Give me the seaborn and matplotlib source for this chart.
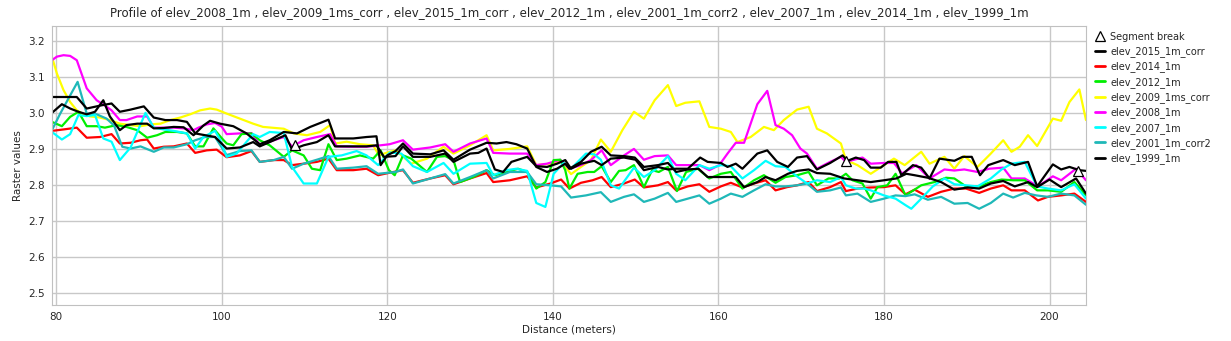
import matplotlib
matplotlib.use("Agg")
from matplotlib import pyplot as plt
from matplotlib.lines import Line2D
import numpy as np
import seaborn as sns

# elevation profiles, (distance, value) vertices
dist_2009 = [79.5, 80.1, 80.9, 81.7, 82.5, 83.3, 84.1, 85.3, 86.5, 87.7, 89.0, 90.2, 91.4, 92.6, 93.8, 95.0, 96.2, 97.4, 98.6, 99.4,
             100.6, 102.2, 103.8, 105.0, 107.5, 108.7, 110.3, 111.9, 113.1, 113.7, 115.1, 116.7, 118.3, 119.0, 120.0,
             121.0, 122.9, 124.8, 126.8, 128.0, 130.0, 132.0, 132.8, 134.8, 136.9, 138.0, 139.7, 141.0,
             142.2, 143.4, 144.6, 145.8, 147.0, 148.4, 149.8, 151.0, 152.3, 153.9, 154.9, 156.0, 157.7, 158.9, 160.3, 161.5,
             162.3, 163.9, 165.5, 166.7, 167.9, 169.5, 170.9, 171.9, 173.1, 174.8, 175.4, 176.8, 178.4, 180.0, 181.2,
             182.5, 184.5, 185.5, 187.3, 188.5, 189.7, 191.3, 192.9, 194.4, 195.4, 196.4, 197.4, 198.5, 200.4, 201.4, 202.4, 203.6, 204.4]
elev_2009 = [3.155, 3.109, 3.063, 3.03, 3.007, 2.996, 2.99, 2.987, 2.98, 2.97, 2.966, 2.963, 2.968, 2.97, 2.98, 2.987, 2.996, 3.007, 3.012, 3.009,
             2.998, 2.984, 2.97, 2.961, 2.956, 2.943, 2.938, 2.947, 2.966, 2.915, 2.92, 2.913, 2.91, 2.882, 2.89,
             2.896, 2.859, 2.873, 2.906, 2.887, 2.91, 2.938, 2.896, 2.90, 2.907, 2.855, 2.859, 2.865,
             2.83, 2.85, 2.869, 2.926, 2.892, 2.952, 3.003, 2.984, 3.035, 3.077, 3.019, 3.028, 3.032, 2.961, 2.956, 2.947,
             2.919, 2.933, 2.961, 2.952, 2.98, 3.009, 3.017, 2.956, 2.943, 2.915, 2.869, 2.855, 2.831, 2.855, 2.873,
             2.855, 2.892, 2.859, 2.878, 2.845, 2.88, 2.85, 2.887, 2.924, 2.892, 2.906, 2.938, 2.908, 2.984, 2.978, 3.03, 3.065, 2.98]

dist_2008 = [79.5, 80.1, 80.9, 81.7, 82.5, 83.7, 84.9, 86.1, 86.7, 87.7, 88.5, 89.8, 91.0, 91.8, 93.0, 94.2, 95.4, 96.6, 97.2, 98.2, 99.2,
             100.0, 100.6, 102.2, 103.6, 104.6, 106.3, 107.5, 108.5, 109.9, 111.5, 113.1, 113.9, 115.9, 117.5, 119.2,
             120.3, 121.9, 123.1, 125.2, 127.0, 128.0, 130.0, 132.0, 132.8, 134.8, 136.9, 138.0, 139.3, 140.9,
             142.0, 143.4, 144.6, 145.9, 147.0, 148.6, 149.8, 151.0, 152.3, 153.9, 154.9, 156.3, 157.7, 158.9, 160.1, 161.1,
             162.1, 163.1, 164.7, 165.9, 166.9, 167.9, 168.9, 169.9, 170.7, 171.9, 173.5, 174.8, 175.4, 176.4, 177.4, 178.4,
             180.0, 181.2, 182.2, 183.9, 185.5, 187.3, 188.5, 189.7, 191.3, 192.7, 194.4, 195.4, 197.0, 198.6, 200.4, 201.4, 203.2, 204.4]
elev_2008 = [3.146, 3.156, 3.16, 3.158, 3.146, 3.068, 3.035, 3.017, 3.007, 2.98, 2.98, 2.99, 2.99, 2.959, 2.959, 2.959, 2.957, 2.952, 2.959, 2.968, 2.972,
             2.962, 2.941, 2.943, 2.944, 2.91, 2.924, 2.933, 2.907, 2.924, 2.933, 2.941, 2.907, 2.906, 2.906, 2.91,
             2.913, 2.924, 2.898, 2.904, 2.913, 2.892, 2.915, 2.929, 2.889, 2.887, 2.887, 2.855, 2.859, 2.87,
             2.845, 2.855, 2.869, 2.896, 2.855, 2.882, 2.9, 2.87, 2.88, 2.882, 2.855, 2.855, 2.855, 2.841, 2.855, 2.887,
             2.917, 2.917, 3.024, 3.061, 2.966, 2.956, 2.938, 2.901, 2.887, 2.845, 2.864, 2.878, 2.864, 2.87, 2.876, 2.859,
             2.861, 2.861, 2.832, 2.855, 2.818, 2.843, 2.84, 2.843, 2.836, 2.845, 2.848, 2.818, 2.818, 2.796, 2.824, 2.813, 2.845, 2.813]

dist_2007 = [79.5, 80.7, 81.7, 82.7, 83.7, 84.7, 85.7, 86.7, 87.7, 89.0, 90.8, 91.8, 93.0, 94.2, 95.8, 96.8, 97.8, 99.2, 99.8,
             100.6, 101.8, 103.8, 104.6, 105.8, 107.5, 108.5, 109.9, 111.5, 112.9, 114.5, 116.3, 117.5, 118.9,
             120.3, 121.7, 123.1, 124.8, 126.8, 128.0, 130.0, 132.0, 132.8, 134.4, 135.6, 136.9, 138.0, 139.1, 140.1, 141.3,
             142.2, 144.0, 145.0, 145.8, 147.0, 148.0, 149.8, 151.0, 152.3, 153.9, 154.9, 156.0, 157.7, 158.9, 160.3,
             161.5, 162.9, 164.3, 165.7, 166.9, 168.1, 169.3, 170.7, 171.9, 173.5, 174.8, 175.4, 176.6, 177.6, 178.4, 180.0, 181.4,
             182.6, 183.3, 184.5, 185.9, 187.3, 188.5, 189.9, 191.3, 192.9, 194.2, 195.4, 197.0, 198.5, 199.8, 201.4, 203.0, 204.4]
elev_2007 = [2.947, 2.926, 2.941, 2.994, 2.991, 2.994, 2.929, 2.92, 2.869, 2.904, 3.0, 2.959, 2.954, 2.95, 2.943, 2.901, 2.933, 2.95, 2.926,
             2.878, 2.887, 2.941, 2.933, 2.947, 2.944, 2.85, 2.804, 2.804, 2.878, 2.882, 2.894, 2.882, 2.855,
             2.89, 2.887, 2.852, 2.836, 2.861, 2.831, 2.859, 2.861, 2.827, 2.841, 2.845, 2.839, 2.75, 2.739, 2.831, 2.861,
             2.845, 2.887, 2.885, 2.87, 2.799, 2.79, 2.848, 2.822, 2.841, 2.88, 2.831, 2.813, 2.855, 2.845, 2.855,
             2.852, 2.818, 2.841, 2.867, 2.852, 2.85, 2.827, 2.804, 2.813, 2.808, 2.822, 2.799, 2.79, 2.79, 2.785, 2.771, 2.762,
             2.744, 2.734, 2.762, 2.796, 2.818, 2.802, 2.799, 2.796, 2.818, 2.843, 2.859, 2.864, 2.796, 2.79, 2.785, 2.802, 2.762]

dist_2001 = [79.5, 80.5, 81.5, 82.6, 83.7, 84.9, 86.1, 87.0, 88.0, 89.0, 90.2, 91.8, 93.0, 94.2, 95.8, 96.8, 98.0, 99.2,
             100.6, 102.2, 103.6, 104.6, 106.3, 107.5, 108.5, 109.9, 111.5, 112.9, 113.9, 115.9, 117.5, 118.9,
             121.0, 121.9, 123.1, 125.2, 127.0, 128.0, 130.0, 132.0, 132.8, 134.8, 136.9, 138.0, 139.7, 141.0,
             142.2, 144.0, 145.8, 147.0, 148.6, 149.8, 151.0, 152.3, 153.9, 154.9, 156.3, 157.7, 158.9, 160.3,
             161.5, 162.9, 164.3, 165.7, 166.9, 168.1, 169.5, 170.7, 171.9, 173.5, 174.8, 175.4, 176.8, 178.4, 180.0, 181.4,
             182.6, 183.7, 185.3, 186.9, 188.5, 190.1, 191.5, 192.9, 194.4, 195.6, 197.0, 198.4, 199.8, 201.4, 203.0, 204.4]
elev_2001 = [2.952, 2.998, 3.04, 3.086, 2.998, 2.996, 2.984, 2.965, 2.906, 2.901, 2.907, 2.892, 2.904, 2.904, 2.913, 2.924, 2.933, 2.933,
             2.883, 2.894, 2.896, 2.864, 2.869, 2.878, 2.845, 2.859, 2.87, 2.88, 2.845, 2.848, 2.852, 2.831,
             2.836, 2.843, 2.804, 2.818, 2.83, 2.804, 2.822, 2.841, 2.818, 2.836, 2.836, 2.802, 2.799, 2.796,
             2.765, 2.771, 2.78, 2.753, 2.767, 2.774, 2.753, 2.762, 2.778, 2.753, 2.762, 2.771, 2.748, 2.762,
             2.776, 2.767, 2.785, 2.802, 2.796, 2.796, 2.799, 2.804, 2.781, 2.785, 2.793, 2.771, 2.776, 2.753, 2.762, 2.771,
             2.769, 2.774, 2.759, 2.767, 2.748, 2.75, 2.734, 2.75, 2.776, 2.765, 2.778, 2.771, 2.767, 2.776, 2.771, 2.745]

dist_2014 = [79.5, 80.9, 82.5, 83.7, 85.3, 86.7, 87.7, 89.0, 90.2, 91.0, 91.8, 93.0, 94.2, 95.8, 96.8, 98.2, 99.4,
             100.6, 102.2, 103.6, 104.6, 106.3, 107.5, 108.5, 109.9, 111.5, 112.9, 113.9, 115.9, 117.5, 118.9,
             120.3, 121.9, 123.1, 125.2, 127.0, 128.0, 130.0, 132.0, 132.8, 134.8, 136.9, 138.0, 139.7, 141.0,
             142.0, 143.4, 144.8, 145.9, 147.0, 148.6, 149.9, 151.0, 152.7, 153.9, 154.9, 156.3, 157.7, 158.9, 160.3,
             161.5, 162.9, 164.3, 165.7, 166.9, 168.3, 169.5, 170.9, 171.9, 173.5, 174.8, 175.4, 176.8, 178.4, 180.0, 181.4,
             182.6, 183.7, 185.3, 186.9, 188.5, 189.9, 191.5, 192.9, 194.4, 195.4, 197.0, 198.6, 199.8, 201.4, 203.0, 204.4]
elev_2014 = [2.95, 2.954, 2.959, 2.931, 2.933, 2.941, 2.915, 2.917, 2.924, 2.926, 2.901, 2.906, 2.907, 2.915, 2.889, 2.896, 2.898,
             2.877, 2.882, 2.894, 2.864, 2.869, 2.869, 2.855, 2.859, 2.864, 2.873, 2.841, 2.841, 2.845, 2.827,
             2.834, 2.841, 2.806, 2.818, 2.827, 2.802, 2.818, 2.833, 2.808, 2.813, 2.824, 2.793, 2.804, 2.815,
             2.79, 2.806, 2.813, 2.822, 2.794, 2.804, 2.815, 2.793, 2.799, 2.808, 2.785, 2.796, 2.802, 2.781, 2.796,
             2.806, 2.793, 2.804, 2.813, 2.785, 2.794, 2.799, 2.808, 2.783, 2.794, 2.808, 2.783, 2.79, 2.793, 2.794, 2.799,
             2.774, 2.787, 2.767, 2.781, 2.79, 2.79, 2.778, 2.79, 2.799, 2.785, 2.785, 2.757, 2.767, 2.771, 2.776, 2.753]

dist_2012 = [79.5, 80.7, 81.7, 82.7, 83.7, 84.9, 85.9, 87.3, 88.5, 89.8, 91.0, 92.2, 93.2, 94.6, 95.8, 96.8, 97.8, 99.0,
             100.0, 100.6, 101.4, 102.4, 103.6, 104.6, 105.8, 107.5, 108.5, 109.9, 110.9, 111.9, 112.9, 113.9, 115.1, 116.7, 118.3, 119.2,
             120.2, 120.9, 121.9, 122.9, 124.8, 126.0, 127.0, 128.0, 128.8, 130.4, 132.0, 133.0, 134.4, 135.8, 136.9, 138.0, 139.1, 140.1, 140.9, 141.5,
             142.0, 143.0, 144.2, 145.0, 145.9, 147.0, 148.0, 148.8, 149.8, 151.0, 152.0, 152.8, 153.9, 155.0, 156.1, 157.5, 158.9, 160.3,
             161.5, 162.9, 164.3, 165.5, 166.9, 168.1, 169.5, 170.9, 171.9, 173.3, 174.6, 175.4, 176.2, 177.4, 178.4, 179.2, 180.4, 181.4,
             182.6, 184.5, 186.1, 187.5, 188.5, 189.9, 191.5, 192.9, 194.2, 195.6, 197.0, 198.5, 199.8, 201.4, 203.0, 204.4]
elev_2012 = [2.975, 2.963, 2.989, 3.003, 2.963, 2.963, 2.959, 2.966, 2.961, 2.952, 2.931, 2.938, 2.947, 2.947, 2.943, 2.907, 2.907, 2.957,
             2.93, 2.915, 2.91, 2.941, 2.943, 2.924, 2.91, 2.878, 2.896, 2.882, 2.845, 2.841, 2.913, 2.869, 2.873, 2.882, 2.873, 2.896,
             2.841, 2.827, 2.882, 2.873, 2.836, 2.878, 2.88, 2.869, 2.808, 2.822, 2.841, 2.827, 2.836, 2.845, 2.836, 2.79, 2.808, 2.869, 2.87, 2.841,
             2.79, 2.831, 2.836, 2.836, 2.852, 2.808, 2.839, 2.841, 2.855, 2.794, 2.841, 2.836, 2.85, 2.783, 2.836, 2.845, 2.818, 2.831,
             2.836, 2.79, 2.813, 2.827, 2.806, 2.822, 2.827, 2.836, 2.799, 2.818, 2.818, 2.831, 2.813, 2.804, 2.762, 2.794, 2.799, 2.831,
             2.771, 2.799, 2.808, 2.82, 2.818, 2.796, 2.796, 2.808, 2.815, 2.813, 2.813, 2.785, 2.785, 2.781, 2.808, 2.771]

dist_2015 = [79.5, 82.5, 83.7, 85.5, 86.7, 87.7, 89.0, 90.6, 91.8, 93.2, 94.6, 95.8, 96.8, 98.0, 99.2,
             100.6, 102.2, 103.8, 104.6, 106.3, 107.7, 108.5, 109.9, 111.5, 112.9, 113.7, 115.9, 117.5, 118.7, 119.6,
             121.0, 121.9, 123.1, 125.2, 127.0, 128.0, 130.0, 131.0, 132.0, 133.0, 134.0, 135.0, 136.9, 138.0, 139.3, 140.5, 141.5,
             142.2, 143.4, 145.0, 145.9, 147.0, 148.6, 150.0, 151.0, 152.7, 153.9, 154.9, 156.3, 157.8, 158.7, 160.3, 161.1,
             162.1, 162.9, 164.7, 165.9, 167.1, 168.4, 169.5, 170.7, 171.9, 173.5, 175.0, 175.6, 176.6, 177.6, 178.4, 179.6, 180.5, 181.5,
             182.1, 183.5, 184.5, 185.5, 186.7, 188.5, 189.5, 190.6, 191.6, 192.6, 194.4, 195.8, 197.4, 198.5, 200.4, 201.4, 202.4, 203.6, 204.4]
elev_2015 = [3.044, 3.044, 3.012, 3.021, 3.026, 3.003, 3.009, 3.018, 2.987, 2.98, 2.98, 2.975, 2.943, 2.938, 2.933,
             2.901, 2.904, 2.919, 2.907, 2.924, 2.938, 2.898, 2.91, 2.919, 2.938, 2.907, 2.907, 2.907, 2.91, 2.878,
             2.88, 2.907, 2.878, 2.878, 2.887, 2.864, 2.887, 2.889, 2.901, 2.843, 2.836, 2.864, 2.878, 2.852, 2.85, 2.859, 2.869,
             2.845, 2.859, 2.867, 2.855, 2.873, 2.876, 2.87, 2.841, 2.85, 2.843, 2.845, 2.845, 2.876, 2.864, 2.861, 2.85,
             2.859, 2.845, 2.887, 2.896, 2.864, 2.85, 2.876, 2.88, 2.843, 2.861, 2.882, 2.867, 2.876, 2.869, 2.848, 2.848, 2.864, 2.864,
             2.827, 2.855, 2.848, 2.818, 2.873, 2.867, 2.878, 2.878, 2.827, 2.855, 2.869, 2.855, 2.864, 2.796, 2.857, 2.843, 2.85, 2.841, 2.839]

dist_1999 = [79.5, 80.7, 81.7, 82.7, 83.7, 84.7, 85.7, 86.5, 87.7, 88.5, 89.8, 91.0, 91.8, 93.0, 94.2, 95.4, 96.6, 97.8, 98.6, 99.8,
             101.4, 103.0, 104.6, 105.8, 107.5, 109.1, 110.7, 112.9, 113.7, 115.9, 117.5, 118.7, 119.2, 120.0, 121.0,
             121.9, 123.1, 125.2, 126.8, 128.0, 130.0, 132.0, 133.2, 134.4, 135.6, 136.9, 138.0, 139.3, 140.5, 141.5,
             142.0, 143.4, 144.6, 145.9, 147.0, 148.6, 149.9, 151.0, 152.7, 153.9, 154.9, 156.3, 157.6, 158.7, 160.3, 162.1,
             163.1, 164.7, 165.7, 166.9, 168.4, 169.5, 170.9, 171.9, 173.5, 175.2, 176.8, 178.4, 180.0, 181.5, 182.7,
             183.7, 185.3, 186.9, 188.5, 190.1, 191.5, 192.9, 194.4, 195.8, 197.4, 198.5, 200.0, 201.4, 203.2, 204.4]
elev_1999 = [3.0, 3.024, 3.012, 3.003, 2.996, 3.003, 3.035, 2.99, 2.952, 2.966, 2.97, 2.97, 2.957, 2.958, 2.961, 2.96, 2.938, 2.965, 2.978, 2.97,
             2.963, 2.943, 2.913, 2.924, 2.947, 2.943, 2.961, 2.981, 2.929, 2.929, 2.933, 2.935, 2.855, 2.882, 2.894,
             2.915, 2.887, 2.885, 2.896, 2.87, 2.898, 2.917, 2.915, 2.919, 2.913, 2.901, 2.85, 2.836, 2.845, 2.859,
             2.845, 2.864, 2.892, 2.906, 2.882, 2.88, 2.876, 2.85, 2.855, 2.861, 2.836, 2.843, 2.845, 2.822, 2.822, 2.822,
             2.794, 2.808, 2.822, 2.813, 2.831, 2.839, 2.843, 2.833, 2.831, 2.818, 2.813, 2.808, 2.813, 2.818, 2.831,
             2.827, 2.82, 2.808, 2.787, 2.793, 2.79, 2.804, 2.811, 2.796, 2.808, 2.794, 2.815, 2.794, 2.818, 2.776]

break_dist = [108.9, 175.4, 203.4]
break_elev = [2.912, 2.866, 2.838]

# drawing order, bottom to top
series = [
    ("elev_2009_1ms_corr", dist_2009, elev_2009, "#ffff00"),
    ("elev_2008_1m", dist_2008, elev_2008, "#ff00ff"),
    ("elev_2014_1m", dist_2014, elev_2014, "#ff0000"),
    ("elev_2012_1m", dist_2012, elev_2012, "#00ee00"),
    ("elev_2001_1m_corr2", dist_2001, elev_2001, "#1fb8b8"),
    ("elev_2007_1m", dist_2007, elev_2007, "#00ffff"),
    ("elev_2015_1m_corr", dist_2015, elev_2015, "#000000"),
    ("elev_1999_1m", dist_1999, elev_1999, "#000000"),
]
legend_order = ["elev_2015_1m_corr", "elev_2014_1m", "elev_2012_1m", "elev_2009_1ms_corr",
                "elev_2008_1m", "elev_2007_1m", "elev_2001_1m_corr2", "elev_1999_1m"]
title_order = ["elev_2008_1m", "elev_2009_1ms_corr", "elev_2015_1m_corr", "elev_2012_1m",
               "elev_2001_1m_corr2", "elev_2007_1m", "elev_2014_1m", "elev_1999_1m"]

sns.set_style("white")
plt.rcParams["font.family"] = ["DejaVu Sans"]

fig = plt.figure(figsize=(12.31, 3.41), dpi=100)
ax = fig.add_axes([0.0422, 0.1056, 0.8400, 0.8182])

colors = {}
for name, d, v, c in series:
    sns.lineplot(x=d, y=v, ax=ax, color=c, linewidth=1.6, sort=False, estimator=None, legend=False)
    colors[name] = c

ax.plot(break_dist, break_elev, linestyle="none", marker="^", markersize=6.5,
        markerfacecolor="white", markeredgecolor="black", markeredgewidth=0.9, zorder=5)

ax.set_xlim(79.5, 204.4)
ax.set_ylim(2.467, 3.241)
ax.set_xticks(np.arange(80, 201, 20))
ax.set_yticks(np.arange(2.5, 3.21, 0.1))
ax.set_yticklabels([f"{t:.1f}" for t in np.arange(2.5, 3.21, 0.1)])
ax.grid(True, color="#c8c8c8", linewidth=1.0)
for s in ax.spines.values():
    s.set_color("#c0c0c0")
ax.tick_params(labelsize=7.5, length=3, color="#999999", pad=2)

ax.set_xlabel("Distance (meters)", fontsize=7.5, labelpad=2)
ax.set_ylabel("Raster values", fontsize=7.5, labelpad=4)
ax.set_title("Profile of " + " , ".join(title_order), fontsize=8.5, pad=7)

handles = [Line2D([], [], linestyle="none", marker="^", markersize=7, markerfacecolor="white",
                  markeredgecolor="black", markeredgewidth=0.9)]
handles += [Line2D([], [], color=colors[n], linewidth=2) for n in legend_order]
ax.legend(handles, ["Segment break"] + legend_order, loc="upper left", bbox_to_anchor=(1.003, 1.0),
          frameon=False, fontsize=7, handlelength=1.0, handletextpad=0.6, labelspacing=0.45, borderaxespad=0.2)

fig.savefig("out.png", dpi=100)
